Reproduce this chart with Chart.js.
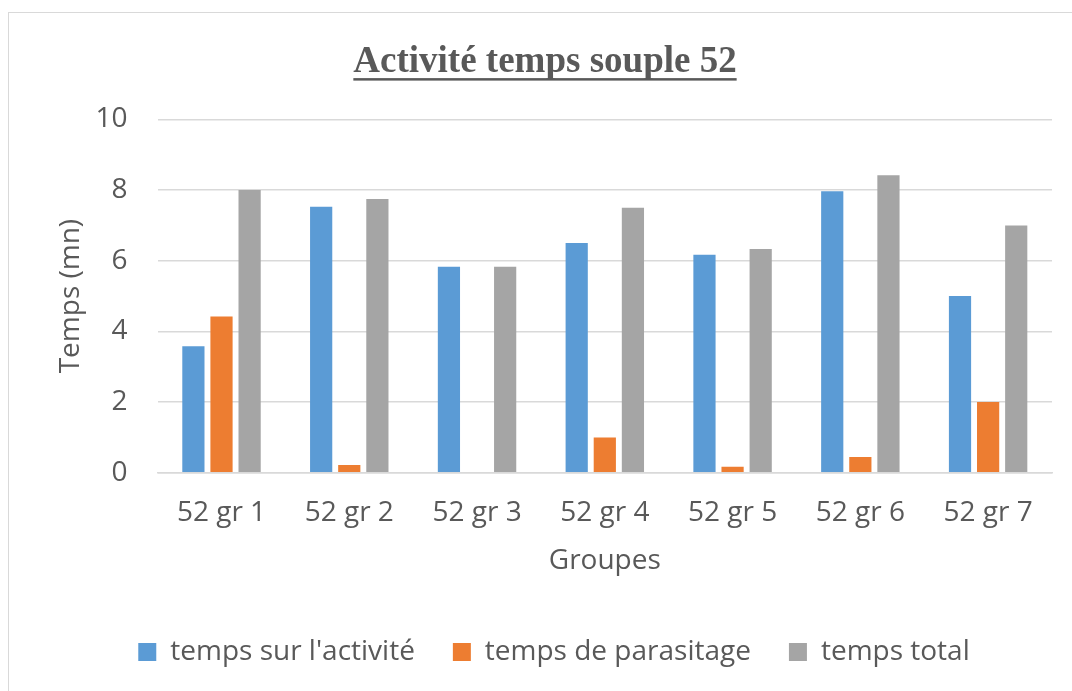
<!DOCTYPE html>
<html>
<head>
<meta charset="utf-8">
<script src="https://cdn.jsdelivr.net/npm/chart.js@4.4.1/dist/chart.umd.min.js"></script>
<style>
    html, body { margin: 0; padding: 0; background: #ffffff; overflow: hidden; }
    #frame { position: absolute; left: 8px; top: 12px; width: 1100px; height: 720px; border: 1px solid #d9d9d9; }
    #wrap { position: absolute; left: 0; top: 0; width: 1072px; height: 691px; }
</style>
</head>
<body>
<div id="frame"></div>
<div id="wrap"><canvas id="barChart"></canvas></div>
<script>
const categories = ['52 gr 1', '52 gr 2', '52 gr 3', '52 gr 4', '52 gr 5', '52 gr 6', '52 gr 7'];
const tempsActivite = [3.58, 7.53, 5.83, 6.5, 6.17, 7.97, 5.0];
const tempsParasitage = [4.42, 0.22, 0, 1.0, 0.17, 0.45, 2.0];
const tempsTotal = [8.0, 7.75, 5.83, 7.5, 6.33, 8.42, 7.0];
const yTicks = [0, 2, 4, 6, 8, 10];

const textColor = '#595959';
const gridColor = '#d9d9d9';
const labelFont = { family: "'Open Sans', sans-serif", size: 28 };

// underline under the title (no option for it in Chart.js), title nudged a bit left
const titleUnderline = {
    id: 'titleUnderline',
    afterLayout(chart) {
        const tb = chart.titleBlock;
        if (!tb) return;
        tb.left -= 9;
        tb.right -= 9;
    },
    afterDraw(chart) {
        const tb = chart.titleBlock;
        if (!tb) return;
        const ctx = chart.ctx;
        const opts = chart.options.plugins.title;
        ctx.save();
        ctx.font = 'bold ' + opts.font.size + 'px ' + opts.font.family;
        const w = ctx.measureText(opts.text).width;
        const cx = (tb.left + tb.right) / 2;
        const y = tb.top + opts.padding.top + opts.font.size * 1.2 / 2 + opts.font.size * 0.43;
        ctx.fillStyle = textColor;
        ctx.fillRect(cx - w / 2, y, w, 2.5);
        ctx.restore();
    }
};

var ctx = document.getElementById('barChart').getContext('2d');
var myChart = new Chart(ctx, {
    type: 'bar',
    data: {
        labels: categories,
        datasets: [
            { label: "temps sur l'activité", data: tempsActivite, backgroundColor: '#5b9bd5' },
            { label: 'temps de parasitage', data: tempsParasitage, backgroundColor: '#ed7d31' },
            { label: 'temps total', data: tempsTotal, backgroundColor: '#a5a5a5' }
        ]
    },
    options: {
        responsive: true,
        maintainAspectRatio: false,
        animation: false,
        categoryPercentage: 0.66,
        barPercentage: 0.79,
        layout: { padding: { left: 56, right: 20, top: 0, bottom: 15 } },
        scales: {
            y: {
                min: 0,
                max: 10,
                afterBuildTicks: (axis) => { axis.ticks = yTicks.map(v => ({ value: v })); },
                border: { display: false },
                grid: { color: gridColor, lineWidth: 1.5, drawTicks: false },
                ticks: { color: textColor, font: labelFont, padding: 30 },
                title: { display: true, text: 'Temps (mn)', color: textColor, font: labelFont, padding: { top: -2, bottom: -22 } }
            },
            x: {
                border: { display: true, color: gridColor, width: 1.5 },
                grid: { display: false },
                ticks: { color: textColor, font: labelFont, padding: 15 },
                title: { display: true, text: 'Groupes', color: textColor, font: labelFont, padding: { top: 0, bottom: 22 } }
            }
        },
        plugins: {
            title: {
                display: true,
                text: 'Activité temps souple 52',
                color: textColor,
                font: { family: "'Liberation Serif', 'Times New Roman', serif", size: 37, weight: 'bold' },
                padding: { top: 40, bottom: 35 }
            },
            legend: {
                display: true,
                position: 'bottom',
                labels: {
                    color: textColor,
                    font: labelFont,
                    boxWidth: 18,
                    boxHeight: 18,
                    padding: 38
                }
            },
            tooltip: { enabled: false }
        }
    },
    plugins: [titleUnderline]
});
</script>
</body>
</html>
